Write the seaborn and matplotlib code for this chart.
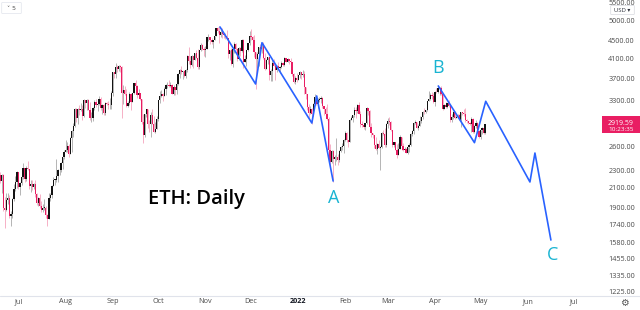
import numpy as np
import pandas as pd
import matplotlib
matplotlib.use("Agg")
import matplotlib.pyplot as plt
import matplotlib.dates as mdates
from matplotlib.patches import Rectangle, FancyBboxPatch
from matplotlib.lines import Line2D
from matplotlib.ticker import NullLocator
import seaborn as sns

# ---------------- data (ETH/USD daily, 2021-06-19 .. 2022-05-04) ----------------
start_date = "2021-06-19"
first_open = 2243

close = [
    2177, 2245, 1891, 1875, 1972, 1991, 1813, 1829, 1980, 2085, 2165, 2275,                       # Jun 19-30
    2110, 2150, 2225, 2325, 2200, 2325, 2315, 2120, 2145, 2110, 2140, 2035, 1940, 1995, 1915, 1875,
    1895, 1895, 1820, 1785, 1995, 2025, 2125, 2190, 2190, 2235, 2300, 2300, 2385, 2460, 2535,     # Jul
    2560, 2610, 2505, 2725, 2825, 2890, 3160, 3010, 3165, 3140, 3165, 3045, 3320, 3270, 3310, 3150,
    3010, 3010, 3180, 3285, 3225, 3240, 3325, 3175, 3225, 3100, 3270, 3245, 3225, 3230, 3435,     # Aug
    3835, 3785, 3940, 3890, 3950, 3925, 3430, 3495, 3425, 3210, 3265, 3410, 3285, 3430, 3615, 3570,
    3400, 3435, 3330, 2960, 2760, 3080, 3155, 2930, 2925, 3060, 2930, 2810, 2850, 3000,           # Sep
    3310, 3390, 3420, 3385, 3515, 3575, 3585, 3560, 3575, 3415, 3545, 3490, 3605, 3790, 3870, 3830,
    3845, 3745, 3870, 4155, 4055, 3970, 4170, 4085, 4220, 4130, 3930, 4285, 4415, 4325, 4290,     # Oct
    4325, 4590, 4605, 4535, 4480, 4520, 4610, 4810, 4730, 4635, 4725, 4665, 4650, 4625, 4580, 4200,
    4290, 3990, 4310, 4440, 4320, 4090, 4345, 4270, 4525, 4045, 4095, 4290, 4445, 4630,           # Nov
    4590, 4520, 4240, 4100, 4200, 4355, 4310, 4430, 4110, 3900, 4085, 4135, 3780, 3860, 4020, 3960,
    3880, 3960, 3920, 3940, 4020, 3980, 4110, 4045, 4100, 4065, 4040, 3790, 3630, 3710, 3680,     # Dec
    3770, 3830, 3765, 3790, 3540, 3415, 3195, 3095, 3155, 3080, 3240, 3370, 3245, 3310, 3330, 3350,
    3210, 3160, 3080, 3000, 2560, 2405, 2540, 2440, 2460, 2465, 2425, 2545, 2600, 2605, 2690,     # Jan
    2795, 2690, 2665, 2990, 3015, 3060, 3145, 3125, 3235, 3085, 2920, 2915, 2880, 2935, 3180, 3125,
    2885, 2785, 2765, 2625, 2575, 2640, 2580, 2600, 2790, 2780, 2620, 2920,                       # Feb
    2970, 2950, 2835, 2620, 2665, 2555, 2495, 2575, 2730, 2610, 2560, 2565, 2515, 2590, 2620, 2770,
    2815, 2945, 2950, 2860, 2895, 2970, 3030, 3110, 3105, 3145, 3290, 3330, 3400, 3385, 3280,     # Mar
    3450, 3445, 3520, 3520, 3410, 3170, 3235, 3190, 3260, 3210, 2980, 3030, 3120, 3015, 3040, 3060,
    2990, 3110, 3100, 3080, 2985, 2965, 2940, 2925, 3005, 2810, 2890, 2935, 2815, 2730,           # Apr
    2830, 2860, 2785, 2919.59,                                                                     # May 1-4
]

high = [
    2275, 2255, 2255, 2003, 2045, 2040, 2025, 1865, 1990, 2140, 2230, 2290,
    2275, 2160, 2240, 2390, 2330, 2350, 2410, 2320, 2190, 2190, 2150, 2185, 2045, 2000, 2030, 1960,
    1930, 1980, 1915, 1830, 2040, 2040, 2130, 2220, 2200, 2440, 2315, 2340, 2400, 2470, 2550,
    2695, 2660, 2630, 2740, 2840, 2945, 3180, 3180, 3180, 3230, 3270, 3230, 3330, 3320, 3330, 3330,
    3285, 3120, 3190, 3305, 3335, 3270, 3375, 3360, 3250, 3250, 3280, 3285, 3290, 3340, 3465,
    3840, 3840, 4020, 3970, 3970, 3970, 3950, 3580, 3560, 3500, 3300, 3460, 3440, 3440, 3620, 3680,
    3590, 3500, 3440, 3330, 3080, 3080, 3170, 3170, 2985, 3120, 3160, 3050, 2960, 3050,
    3320, 3470, 3490, 3440, 3545, 3600, 3640, 3675, 3630, 3600, 3590, 3550, 3610, 3820, 3900, 3955,
    3860, 3880, 3900, 4185, 4370, 4170, 4185, 4165, 4230, 4290, 4310, 4300, 4460, 4420, 4370,
    4380, 4600, 4670, 4605, 4575, 4530, 4630, 4820, 4840, 4868, 4780, 4805, 4700, 4700, 4770, 4580,
    4295, 4345, 4340, 4470, 4450, 4350, 4370, 4365, 4550, 4550, 4180, 4300, 4460, 4750,
    4780, 4630, 4650, 4240, 4240, 4355, 4420, 4440, 4470, 4230, 4090, 4140, 4130, 3885, 4090, 4100,
    3990, 3980, 4040, 3960, 4050, 4040, 4140, 4130, 4125, 4100, 4125, 4040, 3820, 3760, 3810,
    3770, 3850, 3840, 3880, 3845, 3540, 3420, 3240, 3205, 3180, 3255, 3410, 3400, 3340, 3360, 3380,
    3360, 3210, 3190, 3250, 3040, 2630, 2550, 2550, 2490, 2720, 2505, 2560, 2610, 2645, 2700,
    2815, 2800, 2680, 2995, 3050, 3070, 3190, 3190, 3250, 3275, 3130, 2970, 2945, 2945, 3195, 3180,
    3140, 2940, 2795, 2765, 2740, 2655, 2695, 2615, 2805, 2840, 2860, 2935,
    3020, 3040, 2965, 2840, 2670, 2665, 2640, 2645, 2760, 2730, 2650, 2590, 2585, 2600, 2650, 2790,
    2840, 2955, 2990, 2955, 2930, 3050, 3040, 3125, 3185, 3150, 3295, 3480, 3440, 3445, 3440,
    3475, 3535, 3580, 3550, 3555, 3410, 3245, 3285, 3265, 3305, 3215, 3085, 3125, 3130, 3060, 3075,
    3075, 3120, 3110, 3170, 3185, 3000, 2975, 2950, 3030, 3025, 2915, 2980, 2950, 2840,
    2840, 2880, 2860, 2930,
]

low = [
    2155, 2042, 1862, 1701, 1860, 1930, 1800, 1720, 1800, 1960, 2070, 2100,
    2090, 2020, 2130, 2200, 2160, 2180, 2300, 2090, 2050, 2080, 2090, 2000, 1925, 1910, 1890, 1855,
    1855, 1875, 1800, 1720, 1785, 1960, 1990, 2120, 2130, 2170, 2160, 2240, 2280, 2320, 2440,
    2540, 2530, 2460, 2500, 2530, 2740, 2880, 2960, 2920, 3060, 3130, 2990, 3030, 3180, 3150, 3140,
    2990, 2950, 2970, 3150, 3195, 3130, 3235, 3140, 3080, 3070, 3065, 3220, 3160, 3170, 3160,
    3390, 3720, 3720, 3840, 3850, 3840, 3010, 3240, 3400, 3190, 3190, 3235, 3140, 3280, 3420, 3520,
    3350, 3380, 3315, 2930, 2650, 2730, 3040, 2860, 2800, 2740, 2930, 2800, 2790, 2850,
    2970, 3270, 3370, 3290, 3380, 3400, 3530, 3540, 3545, 3410, 3400, 3400, 3420, 3590, 3710, 3800,
    3700, 3730, 3720, 3830, 3990, 3920, 3950, 3920, 4080, 4115, 3900, 3890, 4270, 4290, 4160,
    4150, 4320, 4490, 4420, 4430, 4340, 4515, 4610, 4700, 4460, 4600, 4580, 4580, 4550, 4570, 4110,
    4070, 3970, 3930, 4230, 4300, 4060, 4070, 4170, 4250, 3920, 4040, 3960, 4280, 4400,
    4520, 4430, 4150, 3500, 3920, 3960, 4290, 4230, 4100, 3880, 3890, 3990, 3680, 3660, 3650, 3950,
    3680, 3840, 3900, 3810, 3920, 3960, 3955, 4030, 4030, 4000, 4030, 3755, 3610, 3600, 3640,
    3680, 3720, 3700, 3740, 3420, 3335, 3150, 3005, 3080, 2930, 3055, 3220, 3230, 3180, 3280, 3270,
    3180, 3070, 3060, 2990, 2530, 2330, 2390, 2160, 2370, 2420, 2370, 2400, 2530, 2550, 2520,
    2680, 2665, 2600, 2660, 2980, 2960, 3030, 3020, 3100, 3075, 2880, 2880, 2850, 2830, 2930, 3070,
    2860, 2735, 2725, 2580, 2560, 2500, 2580, 2300, 2580, 2760, 2600, 2600,
    2870, 2910, 2820, 2600, 2600, 2555, 2450, 2490, 2575, 2560, 2540, 2550, 2510, 2500, 2535, 2610,
    2755, 2780, 2920, 2860, 2830, 2890, 2940, 2995, 3080, 3095, 3130, 3290, 3320, 3335, 3270,
    3215, 3440, 3430, 3405, 3400, 3150, 3165, 3180, 3185, 3200, 2950, 2950, 3000, 3000, 3010, 3030,
    2985, 2880, 3060, 3050, 2960, 2940, 2930, 2910, 2800, 2795, 2790, 2870, 2790, 2725,
    2700, 2780, 2770, 2780,
]

# projected wave paths (two separate legs: top->A, and B->C)
wave_dates = ["2021-11-10 14:00", "2021-12-04 00:00", "2021-12-08 05:00", "2022-01-10 00:00",
              "2022-01-13 05:00", "2022-01-24 00:00", "2022-04-03 05:00", "2022-04-27 00:00",
              "2022-05-04 10:00", "2022-06-02 12:00", "2022-06-05 19:00", "2022-06-16 07:00"]
wave_prices = [4840, 3600, 4460, 2940, 3383, 2176, 3563, 2655, 3291, 2165, 2516, 1602]
wave_leg = [1, 1, 1, 1, 1, 1, 2, 2, 2, 2, 2, 2]

wave_labels = ["A", "B", "C"]
label_dates = ["2022-01-24 03:00", "2022-04-03 00:00", "2022-06-17 12:00"]
label_prices = [1992, 3911, 1483]

price_ticks = [5500, 5000, 4500, 4100, 3700, 3300, 2600, 2300, 2100, 1900, 1740, 1580, 1455, 1335, 1225]
month_ticks = ["2021-07-01", "2021-08-01", "2021-09-01", "2021-10-01", "2021-11-01", "2021-12-01",
               "2022-01-01", "2022-02-01", "2022-03-01", "2022-04-01", "2022-05-01", "2022-06-01",
               "2022-07-01"]
month_labels = ["Jul", "Aug", "Sep", "Oct", "Nov", "Dec", "2022", "Feb", "Mar", "Apr", "May", "Jun", "Jul"]

last_price = "2919.59"
countdown = "10:23:35"
title = "ETH: Daily"

# ---------------- style ----------------
sns.set_style("white")
plt.rcParams["font.family"] = ["Open Sans", "DejaVu Sans"]

W, H = 640, 310
fig = plt.figure(figsize=(W / 100, H / 100), dpi=100)
fig.patch.set_facecolor("white")
ax = fig.add_axes([0, 14 / H, 600 / W, 296 / H])
ax.set_facecolor("white")

# ---------------- candles ----------------
dates = pd.date_range(start_date, periods=len(close), freq="D")
df = pd.DataFrame({"date": dates, "close": close, "high": high, "low": low})
df["open"] = [first_open] + close[:-1]
x = mdates.date2num(df["date"])
o = df["open"].to_numpy(float)
c = df["close"].to_numpy(float)
hi = np.maximum(df["high"].to_numpy(float), np.maximum(o, c))
lo = np.minimum(df["low"].to_numpy(float), np.minimum(o, c))
up = c >= o

ax.vlines(x[up], lo[up], hi[up], color="#a8a8a8", lw=0.6, zorder=2)
ax.vlines(x[~up], lo[~up], hi[~up], color="#f5a3bd", lw=0.6, zorder=2)
body_bottom = np.minimum(o, c)
body_h = np.maximum(np.abs(c - o), 4)
ax.bar(x[up], body_h[up], bottom=body_bottom[up], width=0.8, color="#131313", lw=0, zorder=3)
ax.bar(x[~up], body_h[~up], bottom=body_bottom[~up], width=0.8, color="#e91e63", lw=0, zorder=3)

# ---------------- wave projection ----------------
wave_df = pd.DataFrame({
    "x": mdates.date2num(pd.to_datetime(wave_dates, format="%Y-%m-%d %H:%M")),
    "price": wave_prices,
    "leg": wave_leg,
})
sns.lineplot(data=wave_df, x="x", y="price", units="leg", estimator=None, sort=False,
             color="#2962ff", lw=1.2, ax=ax, zorder=4, legend=False)

for lab, d, p in zip(wave_labels, label_dates, label_prices):
    ax.text(mdates.date2num(pd.Timestamp(d)), p, lab, color="#19b4d2", fontsize=13,
            ha="center", va="center", zorder=5)

# ---------------- axes ----------------
ax.set_yscale("log")
ref = mdates.date2num(pd.Timestamp("2021-07-01"))
ax.set_xlim(ref - 12.17, ref + 382.6)
ax.set_ylim(1198, 5567)

ax.yaxis.tick_right()
ax.set_yticks(price_ticks)
ax.set_yticklabels([f"{v:.2f}" for v in price_ticks])
ax.yaxis.set_minor_locator(NullLocator())
ax.set_xticks(mdates.date2num(pd.to_datetime(month_ticks)))
ax.set_xticklabels(month_labels)
ax.xaxis.set_minor_locator(NullLocator())
ax.tick_params(axis="both", length=0, labelsize=5.2, colors="#4a4a4a")
ax.tick_params(axis="y", pad=6)
ax.tick_params(axis="x", pad=1.5)
for t in ax.get_xticklabels():
    if t.get_text() == "2022":
        t.set_fontweight("bold")
        t.set_color("#131722")
ax.set_xlabel("")
ax.set_ylabel("")
for s in ["top", "left", "right", "bottom"]:
    ax.spines[s].set_visible(False)
ax.grid(False)

# bottom separator
fig.add_artist(Line2D([0, 1], [14 / H, 14 / H], color="#e0e3eb", lw=0.8))

# ---------------- overlays ----------------
fig.text(148 / W, 1 - 199 / H, title, fontsize=14.5, fontweight="semibold", color="#000000",
         ha="left", va="center")

# last price box
fig.add_artist(Rectangle((602 / W, 1 - 133 / H), 38 / W, 17 / H, transform=fig.transFigure,
                         facecolor="#e91e63", edgecolor="none"))
fig.text(621 / W, 1 - 123.3 / H, last_price, fontsize=5, color="white", ha="center", va="center")
fig.text(621 / W, 1 - 129.6 / H, countdown, fontsize=4.6, color="white", ha="center", va="center")

# USD button
fig.add_artist(FancyBboxPatch((612 / W, 1 - 14 / H), 21 / W, 8 / H, transform=fig.transFigure,
                              boxstyle="round,pad=0.002", facecolor="white", edgecolor="#d6d8de", lw=0.5))
fig.text(622.5 / W, 1 - 10 / H, "USD ▾", fontsize=4.2, color="#2a2e39", ha="center", va="center",
         family=["Open Sans", "DejaVu Sans"])

# top-left button
fig.add_artist(FancyBboxPatch((3 / W, 1 - 13 / H), 17 / W, 10 / H, transform=fig.transFigure,
                              boxstyle="round,pad=0.002", facecolor="white", edgecolor="#e0e3eb", lw=0.5))
fig.text(11.5 / W, 1 - 8 / H, "˅ 5", fontsize=4.5, color="#555555", ha="center", va="center",
         family=["DejaVu Sans"])

# gear
fig.text(624 / W, 1 - 303 / H, "⚙", fontsize=7, color="#555555", ha="center", va="center",
         family=["DejaVu Sans"])

fig.savefig("out.png", dpi=100, facecolor="white")
